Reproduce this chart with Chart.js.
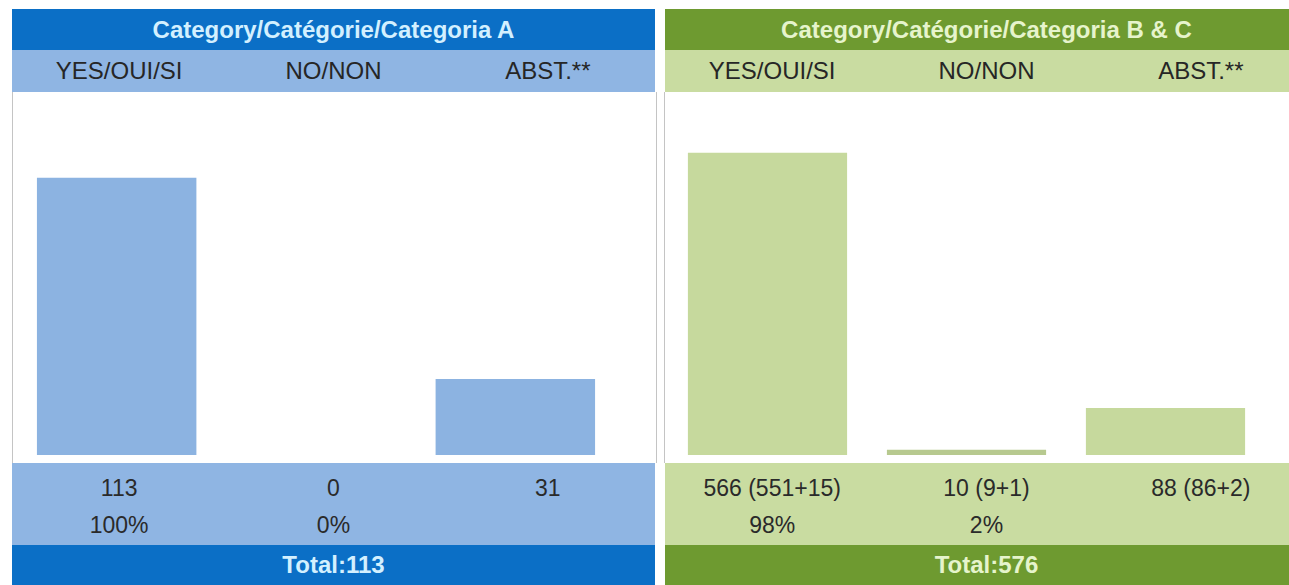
<!DOCTYPE html>
<html>
<head>
<meta charset="utf-8">
<script src="https://cdn.jsdelivr.net/npm/chart.js@4"></script>
<style>
  body { margin: 0; background: #fff; font-family: "Liberation Sans", Arial, sans-serif; }
  #page { position: relative; width: 1289px; height: 585px; overflow: hidden; }
  .panel { position: absolute; top: 9px; height: 576px; }
  .band { position: absolute; left: 0; right: 0; display: flex; }
  .band div { flex: 1; text-align: center; white-space: nowrap; }
  .head { top: 0; height: 41px; line-height: 41px; font-weight: bold; font-size: 24px; justify-content: center; }
  .sub { top: 41px; height: 42px; line-height: 42px; font-size: 24px; color: #262626; }
  .plot { position: absolute; top: 83px; left: 0; right: 0; height: 371px; background: #fff; }
  .vals { top: 454px; height: 82px; font-size: 23px; color: #2a2a2a; flex-direction: column; }
  .vals .row { display: flex; height: 37px; line-height: 37px; flex: none; }
  .vals .row:first-child { margin-top: 7px; }
  .vals .row div { flex: 1; }
  .total { top: 536px; height: 40px; line-height: 40px; font-weight: bold; font-size: 24px; justify-content: center; }
</style>
</head>
<body>
<div id="page"></div>
<script>
// values
const categories = ["YES/OUI/SI", "NO/NON", "ABST.**"];
const titleA = "Category/Catégorie/Categoria A";
const titleBC = "Category/Catégorie/Categoria B & C";
const countsA = [113, 0, 31];
const countsBC = [566, 10, 88];
const countLabelsA = ["113", "0", "31"];
const countLabelsBC = ["566 (551+15)", "10 (9+1)", "88 (86+2)"];
const percentA = ["100%", "0%", ""];
const percentBC = ["98%", "2%", ""];
const totalA = 113;
const totalBC = 576;
const yMaxA = 148;
const yMaxBC = 680;

// the B & C panel runs past the right edge of the picture
const panels = [
    { id: "A", left: 12, width: 643, title: titleA, counts: countsA, countLabels: countLabelsA,
      percents: percentA, total: totalA, yMax: yMaxA,
      dark: "#0b6fc6", light: "#8fb5e3", bars: ["#8cb3e1", "#8cb3e1", "#8cb3e1"],
      headText: "#d3f0ff", pad: { left: 5, right: 40 } },
    { id: "BC", left: 665, width: 643, title: titleBC, counts: countsBC, countLabels: countLabelsBC,
      percents: percentBC, total: totalBC, yMax: yMaxBC,
      dark: "#6e9a30", light: "#c9dca1", bars: ["#c6d99d", "#b7c98f", "#c6d99d"],
      headText: "#e6f4cc", pad: { left: 3, right: 43 } }
];

const page = document.getElementById("page");

function cells(list) {
    return list.map(t => `<div>${t}</div>`).join("");
}

panels.forEach(p => {
    const el = document.createElement("div");
    el.className = "panel";
    el.style.left = p.left + "px";
    el.style.width = p.width + "px";
    el.innerHTML = `
        <div class="band head" style="background:${p.dark};color:${p.headText}">${p.title}</div>
        <div class="band sub" style="background:${p.light}">${cells(categories)}</div>
        <div class="plot"><canvas id="chart${p.id}"></canvas></div>
        <div class="band vals" style="background:${p.light}">
            <div class="row">${cells(p.countLabels)}</div>
            <div class="row">${cells(p.percents)}</div>
        </div>
        <div class="band total" style="background:${p.dark};color:${p.headText}">Total:${p.total}</div>`;
    page.appendChild(el);
});

// thin grey frame lines beside the plot areas
[12, 656, 664].forEach(x => {
    const line = document.createElement("div");
    line.style.cssText = `position:absolute;left:${x}px;top:92px;width:1px;height:371px;background:#c4c4c4`;
    page.appendChild(line);
});

panels.forEach(p => {
    new Chart(document.getElementById("chart" + p.id), {
        type: "bar",
        data: {
            labels: categories,
            datasets: [{
                data: p.counts,
                backgroundColor: p.bars,
                borderWidth: 0,
                barPercentage: 1,
                categoryPercentage: 0.8
            }]
        },
        options: {
            responsive: true,
            maintainAspectRatio: false,
            animation: false,
            layout: { padding: { top: 0, bottom: 8, left: p.pad.left, right: p.pad.right } },
            plugins: { legend: { display: false }, tooltip: { enabled: false } },
            scales: {
                x: { display: false },
                y: { display: false, min: 0, max: p.yMax }
            }
        }
    });
});
</script>
</body>
</html>
